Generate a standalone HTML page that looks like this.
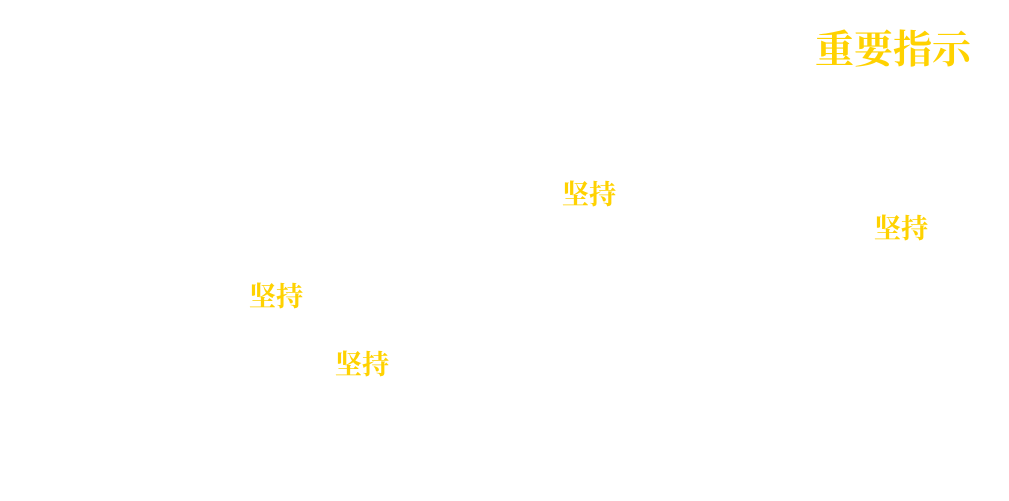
<!DOCTYPE html>
<html><head><meta charset="utf-8"><style>
html,body{margin:0;padding:0;background:#fff;}
body{width:1009px;height:501px;position:relative;overflow:hidden;}
.t{position:absolute;color:#FFD200;font-family:"Liberation Serif","Noto Serif CJK SC",serif;font-weight:bold;line-height:1;white-space:nowrap;}
.s{font-size:27px;}
</style></head><body>
<div class="t" style="left:815px;top:31px;font-size:39px;">重要指示</div>
<div class="t s" style="left:562px;top:182px;">坚持</div>
<div class="t s" style="left:874px;top:216px;">坚持</div>
<div class="t s" style="left:249px;top:284px;">坚持</div>
<div class="t s" style="left:335px;top:352px;">坚持</div>
</body></html>
